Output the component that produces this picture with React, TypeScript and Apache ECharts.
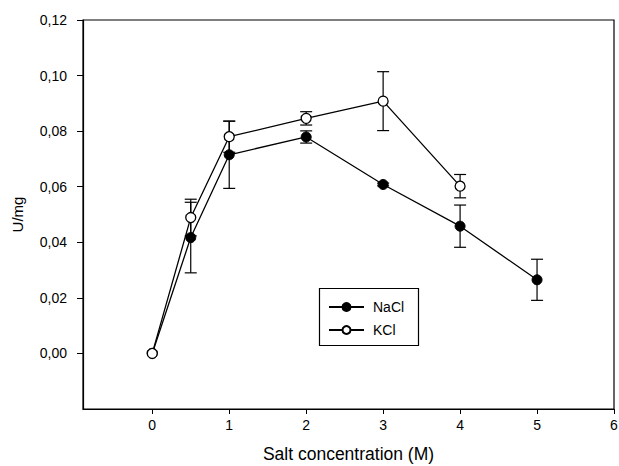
import React, { useEffect, useRef } from "react";
import * as echarts from "echarts";

const naclX = [0, 0.5, 1, 2, 3, 4, 5];
const naclY = [0, 0.0417, 0.0715, 0.0779, 0.0608, 0.0458, 0.0265];
const naclErr = [0, 0.0127, 0.0121, 0.0022, 0.0005, 0.0076, 0.0074];

const kclX = [0, 0.5, 1, 2, 3, 4];
const kclY = [0, 0.0489, 0.078, 0.0846, 0.0908, 0.0602];
const kclErr = [0, 0.0066, 0.0056, 0.0024, 0.0106, 0.0042];

const xTicks = [0, 1, 2, 3, 4, 5, 6];
const yTicks = [0, 0.02, 0.04, 0.06, 0.08, 0.1, 0.12];

const FONT = "Liberation Sans, Arial, sans-serif";

function errData(xs: number[], ys: number[], es: number[]) {
  return xs
    .map((x, i) => [x, ys[i] - es[i], ys[i] + es[i]])
    .filter((_, i) => es[i] > 0);
}

function errSeries(data: number[][]) {
  return {
    type: "custom",
    silent: true,
    z: 1,
    data,
    renderItem: (params: any, api: any) => {
      const x = api.value(0);
      const lo = api.coord([x, api.value(1)]);
      const hi = api.coord([x, api.value(2)]);
      const w = 6;
      const style = { stroke: "#000", lineWidth: 1.2 };
      return {
        type: "group",
        children: [
          { type: "line", shape: { x1: lo[0], y1: lo[1], x2: hi[0], y2: hi[1] }, style },
          { type: "line", shape: { x1: lo[0] - w, y1: lo[1], x2: lo[0] + w, y2: lo[1] }, style },
          { type: "line", shape: { x1: hi[0] - w, y1: hi[1], x2: hi[0] + w, y2: hi[1] }, style },
        ],
      };
    },
  };
}

export default function App() {
  const ref = useRef<HTMLDivElement>(null);
  useEffect(() => {
    if (!ref.current) return;
    const chart = echarts.init(ref.current, undefined, { renderer: "svg" });
    const fmt = (v: number) => v.toFixed(2).replace(".", ",");
    chart.setOption({
      animation: false,
      backgroundColor: "#fff",
      grid: {
        left: 83,
        right: 5,
        top: 20,
        bottom: 57,
        containLabel: false,
        outerBoundsMode: "none",
        show: true,
        borderColor: "#000",
        borderWidth: 1.2,
      },
      xAxis: {
        type: "value",
        min: -0.9,
        max: 6,
        name: "Salt concentration (M)",
        nameLocation: "middle",
        nameGap: 36,
        nameTextStyle: { fontFamily: FONT, fontSize: 17.5, color: "#000" },
        axisLine: { show: true, onZero: false, lineStyle: { color: "#000", width: 1.2 } },
        axisTick: { show: true, length: 5, customValues: xTicks, lineStyle: { color: "#000" } },
        axisLabel: {
          customValues: xTicks,
          margin: 9,
          fontFamily: FONT,
          fontSize: 14,
          color: "#000",
          formatter: (v: number) => String(v),
        },
        splitLine: { show: false },
      },
      yAxis: {
        type: "value",
        min: -0.02,
        max: 0.12,
        interval: 0.02,
        name: "U/mg",
        nameLocation: "middle",
        nameGap: 58,
        nameTextStyle: { fontFamily: FONT, fontSize: 15, color: "#000" },
        axisLine: { show: true, onZero: false, lineStyle: { color: "#000", width: 1.2 } },
        axisTick: { show: true, length: 6, customValues: yTicks, lineStyle: { color: "#000" } },
        axisLabel: {
          customValues: yTicks,
          margin: 16,
          fontFamily: FONT,
          fontSize: 14,
          color: "#000",
          formatter: fmt,
        },
        splitLine: { show: false },
      },
      legend: {
        orient: "vertical",
        left: 328,
        top: 300,
        padding: 0,
        itemWidth: 35,
        itemHeight: 10,
        itemGap: 9,
        textStyle: { fontFamily: FONT, fontSize: 14, color: "#000", padding: [0, 0, 0, 4] },
        data: ["NaCl", "KCl"],
      },
      graphic: [
        {
          type: "rect",
          left: 317,
          top: 286,
          shape: { x: 0, y: 0, width: 99, height: 57 },
          style: { fill: "none", stroke: "#000", lineWidth: 1.2 },
          z: 10,
        },
      ],
      series: [
        errSeries(errData(naclX, naclY, naclErr)),
        errSeries(errData(kclX, kclY, kclErr)),
        {
          name: "NaCl",
          type: "line",
          z: 3,
          data: naclX.map((x, i) => [x, naclY[i]]),
          symbol: "circle",
          symbolSize: 10,
          lineStyle: { color: "#000", width: 1.3 },
          itemStyle: { color: "#000", borderColor: "#000", borderWidth: 1 },
        },
        {
          name: "KCl",
          type: "line",
          z: 4,
          data: kclX.map((x, i) => [x, kclY[i]]),
          symbol: "circle",
          symbolSize: 10,
          lineStyle: { color: "#000", width: 1.3 },
          itemStyle: { color: "#fff", borderColor: "#000", borderWidth: 1.3 },
        },
      ],
    });
    return () => chart.dispose();
  }, []);
  return (
    <div
      ref={ref}
      style={{ position: "absolute", left: 0, top: 0, width: 619, height: 466 }}
    />
  );
}
